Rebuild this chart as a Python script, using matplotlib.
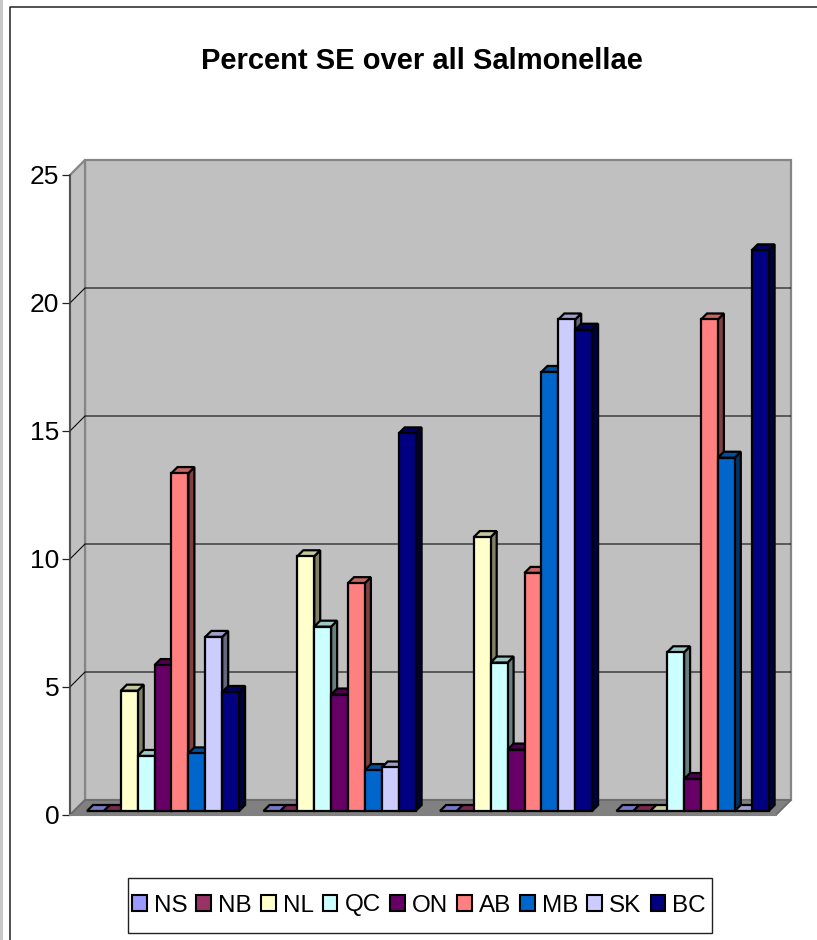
import matplotlib
matplotlib.use("Agg")
import matplotlib.pyplot as plt
from matplotlib.patches import Polygon, Patch, Rectangle
from matplotlib.lines import Line2D
from matplotlib.colors import to_rgb

# Percent SE per province, four unlabelled reporting periods
NS = [0, 0, 0, 0]
NB = [0, 0, 0, 0]
NL = [4.7, 9.95, 10.7, 0]
QC = [2.15, 7.2, 5.8, 6.2]
ON = [5.7, 4.55, 2.4, 1.25]
AB = [13.2, 8.9, 9.3, 19.2]
MB = [2.25, 1.6, 17.15, 13.8]
SK = [6.8, 1.7, 19.2, 0]
BC = [4.65, 14.75, 18.8, 21.9]

SERIES = [NS, NB, NL, QC, ON, AB, MB, SK, BC]
NAMES = ["NS", "NB", "NL", "QC", "ON", "AB", "MB", "SK", "BC"]
COLORS = ["#9999FF", "#993366", "#FFFFCC", "#CCFFFF", "#660066",
          "#FF8080", "#0066CC", "#CCCCFF", "#000080"]
Y_TICKS = [0, 5, 10, 15, 20, 25]
TITLE = "Percent SE over all Salmonellae"

W, H = 817, 940
plt.rcParams["font.family"] = ["Liberation Sans", "DejaVu Sans"]

fig = plt.figure(figsize=(W / 100, H / 100), dpi=100, facecolor="white")

# Outer page edge and chart frame
fig.add_artist(Rectangle((0, 0), 3 / W, 1, transform=fig.transFigure,
                         facecolor="#c8c8c8", edgecolor="none"))
fig.add_artist(Line2D([9.5 / W, 9.5 / W, 1], [0, 1 - 6.5 / H, 1 - 6.5 / H],
                      transform=fig.transFigure, color="#222222", lw=1.1))

# Axes cover the front plane of the 3D box
AX_L, AX_R, AX_T, AX_B = 70, 776, 175, 815
ax = fig.add_axes([AX_L / W, 1 - AX_B / H, (AX_R - AX_L) / W, (AX_B - AX_T) / H])
ax.set_xlim(0, 4)
ax.set_ylim(0, 25)
ax.patch.set_visible(False)

PX_X = (AX_R - AX_L) / 4
PX_Y = (AX_B - AX_T) / 25


def depth(px):
    """Depth in pixels expressed as a shift in data units."""
    return px / PX_X, px / PX_Y


BOX_DEPTH = 15
BASE_DEPTH = 4
BAR_DEPTH = 6
BAR_W = 16.9 / PX_X
GROUP_PAD = 13 / PX_X

bx, by = depth(BOX_DEPTH)

# Walls and floor
wall_kw = dict(clip_on=False, joinstyle="miter")
ax.add_patch(Polygon([(bx, by), (4 + bx, by), (4 + bx, 25 + by), (bx, 25 + by)],
                     facecolor="#c0c0c0", edgecolor="#858585", lw=1.6, zorder=0.5, **wall_kw))
ax.add_patch(Polygon([(0, 0), (bx, by), (bx, 25 + by), (0, 25)],
                     facecolor="#c0c0c0", edgecolor="#858585", lw=1.6, zorder=0.6, **wall_kw))
ax.add_patch(Polygon([(0, 0), (4, 0), (4 + bx, by), (bx, by)],
                     facecolor="#808080", edgecolor="#6a6a6a", lw=1.2, zorder=0.7, **wall_kw))

# Gridlines run along the side wall and across the back wall
for v in Y_TICKS[1:-1]:
    ax.plot([0, bx, 4 + bx], [v, v + by, v + by], color="black", lw=0.75,
            zorder=0.8, clip_on=False, solid_capstyle="butt")


def shade(color, k):
    return tuple(c * k for c in to_rgb(color))


# Bars are drawn left to right so each front face covers its neighbour's side
ox, oy = depth(BASE_DEPTH)
dx, dy = depth(BAR_DEPTH)
edge = dict(edgecolor="black", lw=1.6, clip_on=False, joinstyle="miter", zorder=3)
for g in range(4):
    for s, (vals, color) in enumerate(zip(SERIES, COLORS)):
        v = vals[g]
        x0 = g + GROUP_PAD + s * BAR_W + ox
        x1 = x0 + BAR_W
        y0 = oy
        y1 = v + oy
        if v > 0:
            ax.add_patch(Polygon([(x1, y0), (x1 + dx, y0 + dy), (x1 + dx, y1 + dy), (x1, y1)],
                                 facecolor=shade(color, 0.5), **edge))
        ax.add_patch(Polygon([(x0, y1), (x1, y1), (x1 + dx, y1 + dy), (x0 + dx, y1 + dy)],
                             facecolor=shade(color, 0.78), **edge))
        if v > 0:
            ax.add_patch(Polygon([(x0, y0), (x1, y0), (x1, y1), (x0, y1)],
                                 facecolor=color, **edge))

# Axis furniture
ax.set_xticks([])
ax.set_yticks(Y_TICKS)
ax.tick_params(axis="y", direction="out", length=5.8, width=0.9, color="#222222",
               labelsize=19, pad=2.0, labelcolor="black")
for side in ("top", "right"):
    ax.spines[side].set_visible(False)
ax.spines["left"].set_color("#444444")
ax.spines["left"].set_linewidth(1.1)
ax.spines["bottom"].set_color("#808080")
ax.spines["bottom"].set_linewidth(1.5)

fig.text(421.5 / W, 1 - 61 / H, TITLE, ha="center", va="center",
         fontsize=21, fontweight="bold", color="black")

# Legend frame is a fixed box; the entries sit inside it
fig.add_artist(Rectangle((127.5 / W, 1 - 933 / H), 585 / W, 55 / H, transform=fig.transFigure,
                         facecolor="white", edgecolor="#222222", lw=1.0))
handles = [Patch(facecolor=c, edgecolor="black", lw=1.5) for c in COLORS]
leg = fig.legend(handles, NAMES, ncol=9, loc="center",
                 bbox_to_anchor=(419 / W, 1 - 905.5 / H), fontsize=17.5,
                 frameon=False,
                 handlelength=0.6, handleheight=0.6, handletextpad=0.3,
                 columnspacing=0.37, borderpad=0.1, borderaxespad=0)

fig.savefig("out.png", dpi=100, facecolor="white")
